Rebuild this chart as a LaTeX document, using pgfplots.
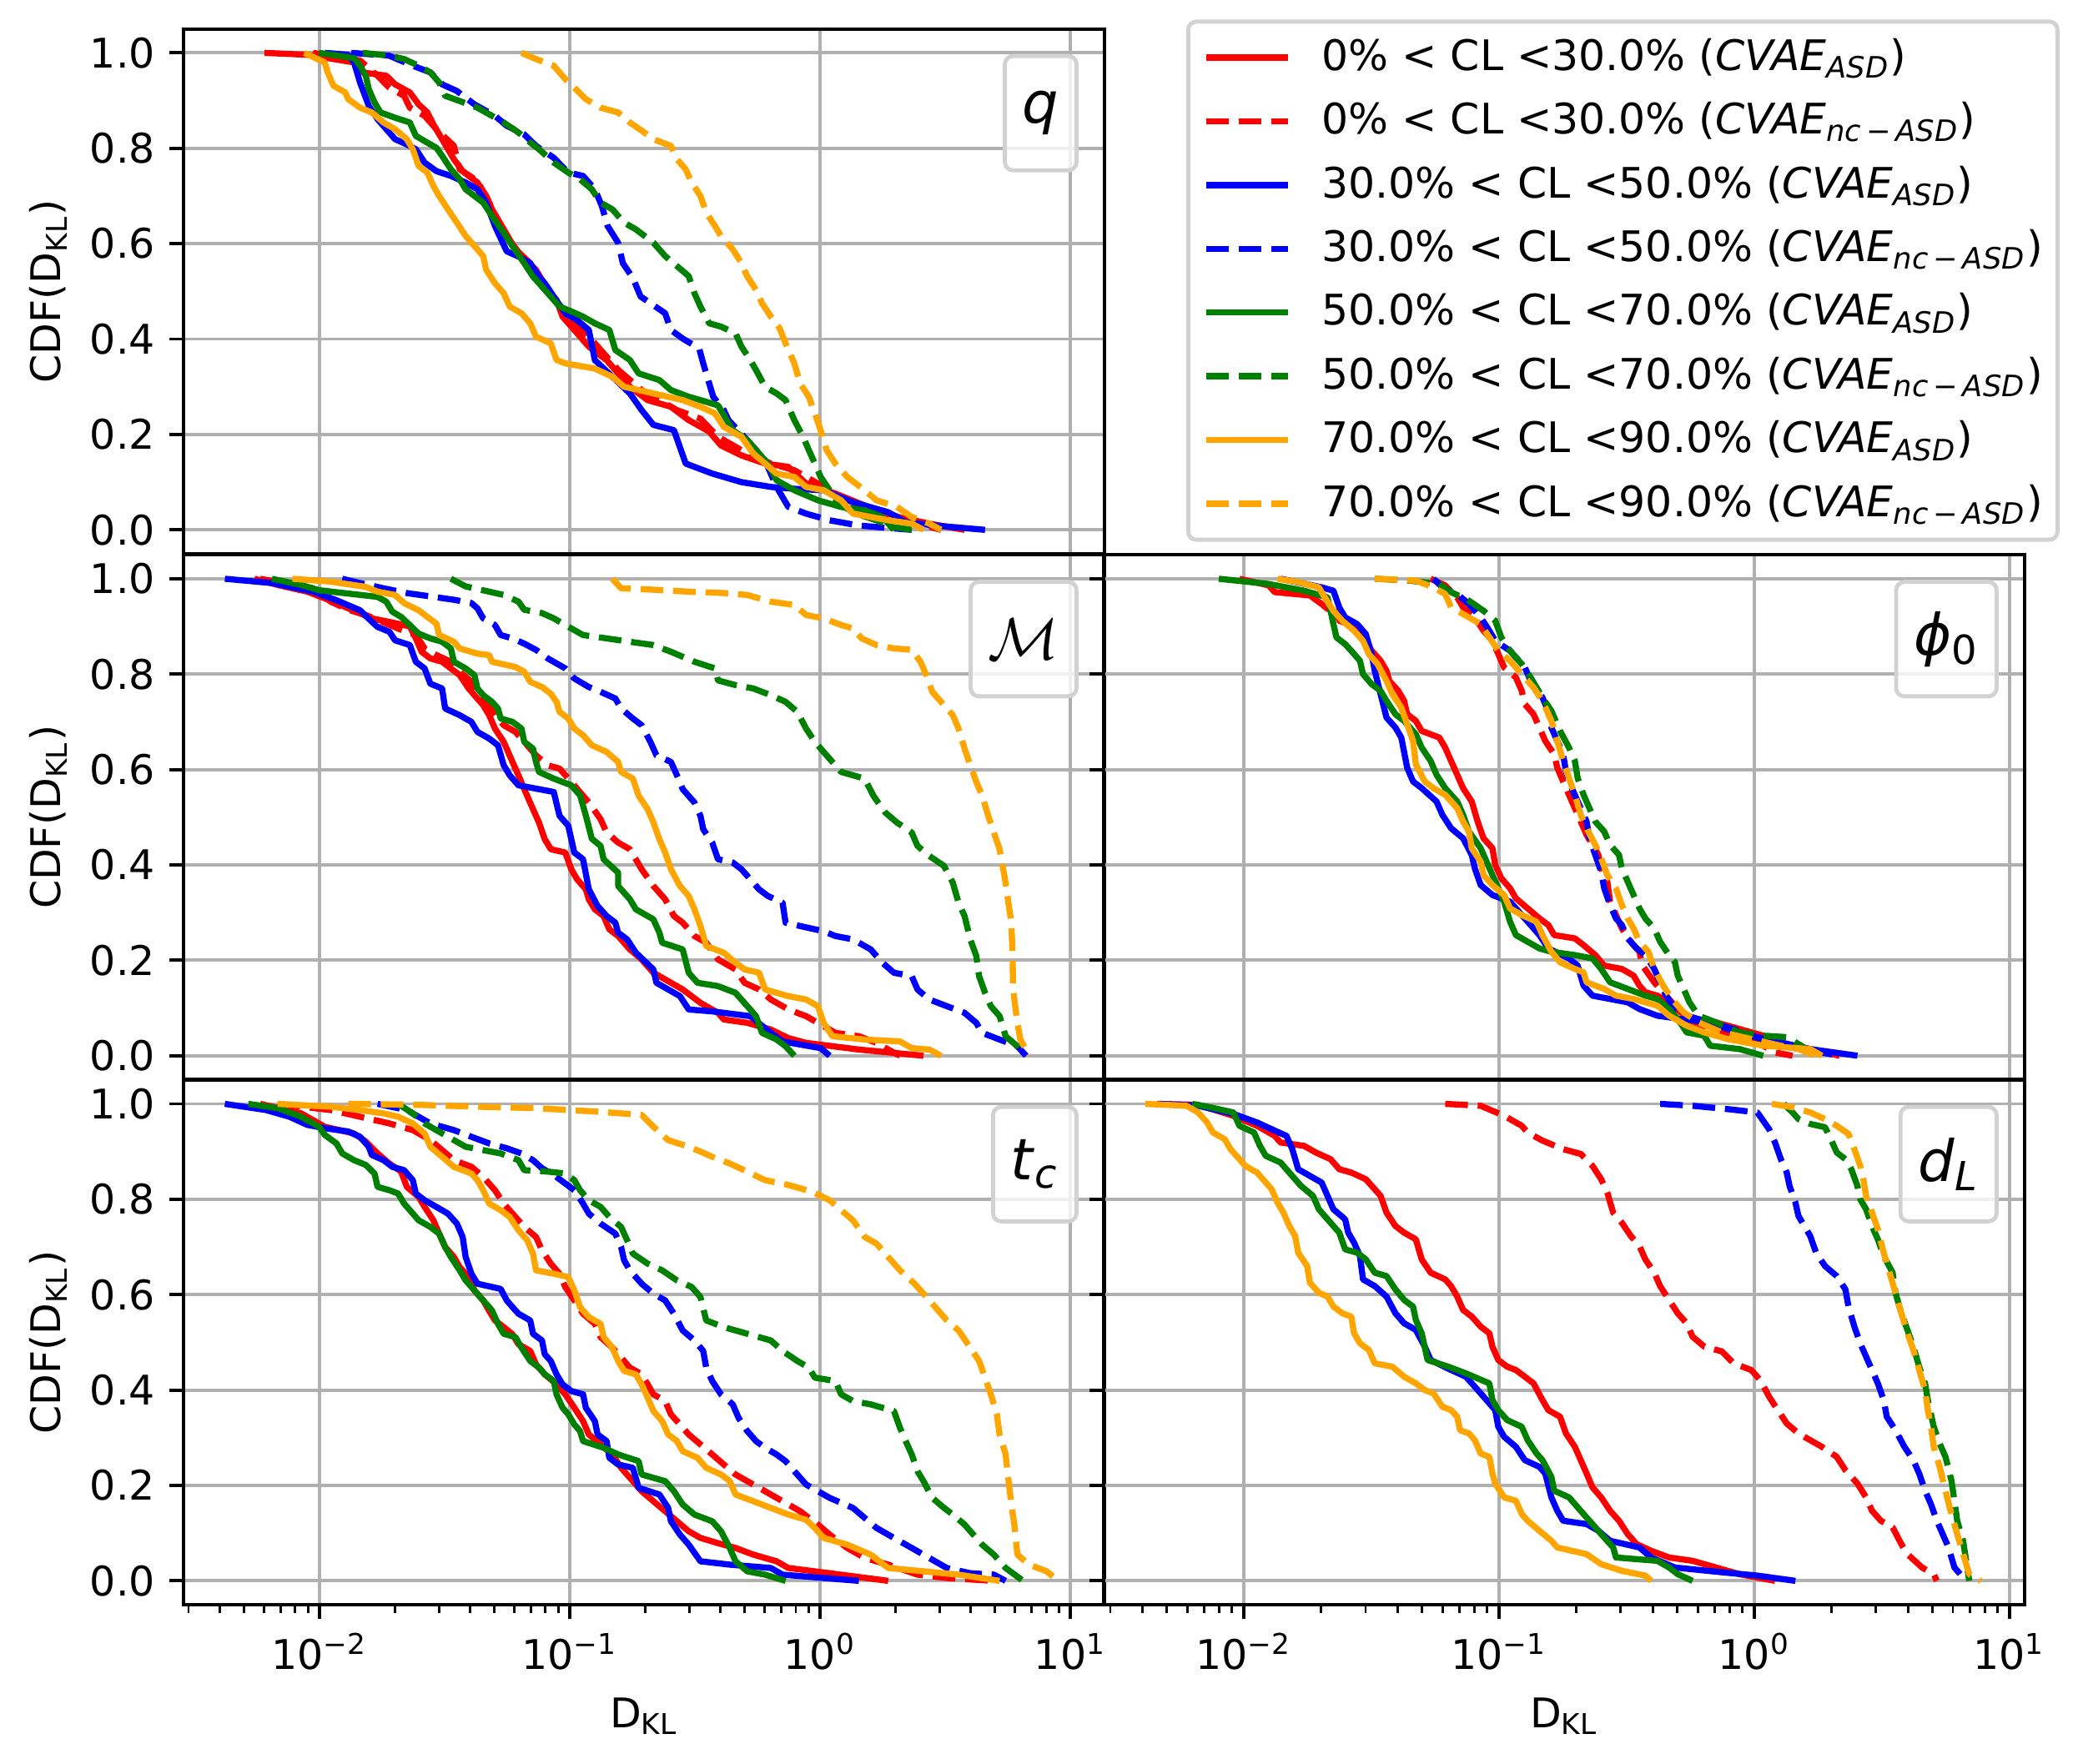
\documentclass[border=0pt]{standalone}
\usepackage{fontspec}
\setmainfont{DejaVu Sans}
\usepackage{pgfplots}
\pgfplotsset{compat=1.18}
\definecolor{cR}{rgb}{1,0,0}
\definecolor{cB}{rgb}{0,0,1}
\definecolor{cG}{rgb}{0,0.502,0}
\definecolor{cO}{rgb}{1,0.647,0}
\definecolor{gridgray}{RGB}{176,176,176}
\definecolor{framegray}{RGB}{210,210,210}
\tikzset{
 sR/.style={cR, line width=1.5pt, solid, line join=round},
 dR/.style={cR, line width=1.5pt, dash pattern=on 5.55pt off 2.4pt, line join=round},
 sB/.style={cB, line width=1.5pt, solid, line join=round},
 dB/.style={cB, line width=1.5pt, dash pattern=on 5.55pt off 2.4pt, line join=round},
 sG/.style={cG, line width=1.5pt, solid, line join=round},
 dG/.style={cG, line width=1.5pt, dash pattern=on 5.55pt off 2.4pt, line join=round},
 sO/.style={cO, line width=1.5pt, solid, line join=round},
 dO/.style={cO, line width=1.5pt, dash pattern=on 5.55pt off 2.4pt, line join=round},
 plabel/.style={draw=framegray, line width=1pt, rounded corners=2pt, fill=white, fill opacity=0.8, text opacity=1,
   inner xsep=4.3pt, minimum height=28pt, font=\fontsize{14}{16}\selectfont, anchor=north east, xshift=-6.3pt, yshift=-6.1pt},
}
\pgfplotsset{
 panel/.style={
   scale only axis, width=225.2pt, height=128.4pt, anchor=south west,
   ymin=-0.05, ymax=1.05,
   ytick={0,0.2,0.4,0.6,0.8,1.0},
   yticklabels={0.0,0.2,0.4,0.6,0.8,1.0},
   xtick={-2,-1,0,1},
   xticklabels={10\textsuperscript{−2},10\textsuperscript{−1},10\textsuperscript{0},10\textsuperscript{1}},
   grid=major,
   major grid style={draw=gridgray, line width=0.8pt},
   axis line style={line width=0.8pt},
   tick align=outside, xtick pos=bottom, ytick pos=left,
   major tick length=3.5pt, minor tick length=2pt,
   tick style={black, line width=0.8pt},
   minor tick style={black, line width=0.6pt},
   tick label style={font=\fontsize{10}{12}\selectfont},
   label style={font=\fontsize{10}{12}\selectfont},
   ylabel={CDF(D\textsubscript{KL})},
   ylabel style={at={(axis description cs:-0.147,0.5)}, anchor=center},
   xlabel style={at={(axis description cs:0.5,-0.212)}, anchor=center},
 },
 leftcol/.style={xmin=-2.542, xmax=1.135},
 rightcol/.style={xmin=-2.548, xmax=1.058, yticklabels={}, ylabel={}},
 minx/.style={minor xtick={-2.523,-2.398,-2.301,-2.222,-2.155,-2.097,-2.046,-1.699,-1.523,-1.398,-1.301,-1.222,-1.155,-1.097,-1.046,-0.699,-0.523,-0.398,-0.301,-0.222,-0.155,-0.097,-0.046,0.301,0.477,0.602,0.699,0.778,0.845,0.903,0.954}},
 nox/.style={xticklabels={}, xmajorticks=false},
}
\begin{document}
\begin{tikzpicture}
\path[use as bounding box] (0,0) rectangle (507.2pt,431.5pt);

% ---------------- q ----------------
\begin{axis}[panel, leftcol, nox, at={(44.97pt,296.0pt)},
  legend image code/.code={\draw[#1] (0pt,0pt) -- (20pt,0pt);},
  legend cell align=left,
  legend style={at={(1.089,1.018)}, anchor=north west, draw=framegray, line width=1pt, rounded corners=2pt,
    fill=white, inner xsep=3.6pt, inner ysep=2.7pt, row sep=3.4pt,
    nodes={inner sep=0pt, text height=9.2pt, text depth=3pt, font=\fontsize{10.3}{12}\selectfont},
    /tikz/every odd column/.append style={column sep=7.6pt}},
]
\addplot[sR] coordinates {(-2.220,1.000)(-2.049,0.996)(-1.862,0.980)(-1.827,0.959)(-1.733,0.952)(-1.698,0.934)(-1.639,0.917)(-1.604,0.892)(-1.569,0.875)(-1.545,0.850)(-1.510,0.819)(-1.463,0.777)(-1.428,0.752)(-1.369,0.728)(-1.334,0.700)(-1.311,0.672)(-1.264,0.630)(-1.217,0.588)(-1.158,0.559)(-1.111,0.510)(-1.053,0.482)(-1.029,0.447)(-0.982,0.419)(-0.924,0.384)(-0.853,0.356)(-0.760,0.300)(-0.689,0.272)(-0.596,0.258)(-0.525,0.230)(-0.443,0.206)(-0.396,0.177)(-0.314,0.156)(-0.220,0.139)(-0.127,0.132)(-0.056,0.097)(0.061,0.076)(0.178,0.051)(0.319,0.026)(0.436,0.013)(0.577,0.000)};
\addlegendentry{0\% < CL <30.0\% (\textit{CVAE}\textsubscript{\textit{ASD}})}
\addplot[dR] coordinates {(-2.026,1.000)(-1.838,0.984)(-1.768,0.952)(-1.721,0.927)(-1.662,0.910)(-1.639,0.885)(-1.580,0.868)(-1.533,0.840)(-1.463,0.805)(-1.440,0.756)(-1.369,0.731)(-1.322,0.686)(-1.264,0.623)(-1.193,0.574)(-1.135,0.545)(-1.088,0.503)(-1.029,0.461)(-0.982,0.433)(-0.900,0.391)(-0.806,0.335)(-0.713,0.293)(-0.572,0.251)(-0.478,0.233)(-0.408,0.195)(-0.291,0.160)(-0.197,0.139)(-0.103,0.125)(-0.009,0.097)(0.084,0.069)(0.202,0.041)(0.342,0.020)(0.483,0.000)};
\addlegendentry{0\% < CL <30.0\% (\textit{CVAE}\textsubscript{\textit{nc}\,−\,\textit{ASD}})}
\addplot[sB] coordinates {(-1.979,1.000)(-1.885,0.996)(-1.862,0.980)(-1.838,0.938)(-1.803,0.889)(-1.768,0.861)(-1.733,0.840)(-1.698,0.819)(-1.651,0.808)(-1.615,0.798)(-1.580,0.770)(-1.533,0.752)(-1.475,0.742)(-1.416,0.728)(-1.369,0.714)(-1.334,0.686)(-1.299,0.637)(-1.252,0.584)(-1.205,0.573)(-1.158,0.559)(-1.123,0.531)(-1.100,0.517)(-1.064,0.489)(-1.018,0.454)(-0.971,0.440)(-0.924,0.419)(-0.900,0.356)(-0.830,0.321)(-0.760,0.286)(-0.713,0.251)(-0.666,0.220)(-0.584,0.209)(-0.537,0.139)(-0.431,0.118)(-0.314,0.100)(-0.197,0.090)(-0.103,0.086)(0.014,0.083)(0.131,0.058)(0.272,0.037)(0.342,0.016)(0.460,0.009)(0.659,0.000)};
\addlegendentry{30.0\% < CL <50.0\% (\textit{CVAE}\textsubscript{\textit{ASD}})}
\addplot[dB] coordinates {(-1.873,1.000)(-1.721,0.994)(-1.627,0.973)(-1.557,0.959)(-1.510,0.934)(-1.451,0.920)(-1.381,0.892)(-1.299,0.868)(-1.252,0.847)(-1.182,0.829)(-1.135,0.805)(-1.064,0.780)(-1.006,0.749)(-0.947,0.742)(-0.900,0.714)(-0.872,0.679)(-0.849,0.637)(-0.807,0.602)(-0.788,0.559)(-0.748,0.528)(-0.717,0.489)(-0.666,0.471)(-0.619,0.454)(-0.596,0.419)(-0.549,0.401)(-0.483,0.380)(-0.467,0.349)(-0.443,0.307)(-0.427,0.279)(-0.385,0.251)(-0.366,0.230)(-0.291,0.188)(-0.220,0.146)(-0.174,0.090)(-0.127,0.048)(-0.056,0.034)(0.038,0.020)(0.155,0.009)(0.366,0.000)};
\addlegendentry{30.0\% < CL <50.0\% (\textit{CVAE}\textsubscript{\textit{nc}\,−\,\textit{ASD}})}
\addplot[sG] coordinates {(-2.002,1.000)(-1.862,0.989)(-1.838,0.973)(-1.815,0.952)(-1.803,0.924)(-1.780,0.896)(-1.756,0.875)(-1.698,0.864)(-1.639,0.854)(-1.615,0.826)(-1.580,0.815)(-1.533,0.801)(-1.510,0.784)(-1.475,0.756)(-1.440,0.735)(-1.416,0.714)(-1.381,0.700)(-1.346,0.686)(-1.311,0.658)(-1.264,0.623)(-1.229,0.595)(-1.182,0.559)(-1.147,0.531)(-1.111,0.510)(-1.076,0.489)(-1.041,0.468)(-0.994,0.458)(-0.947,0.447)(-0.900,0.433)(-0.842,0.419)(-0.818,0.377)(-0.760,0.356)(-0.725,0.328)(-0.642,0.314)(-0.596,0.293)(-0.525,0.279)(-0.478,0.272)(-0.408,0.261)(-0.349,0.209)(-0.291,0.188)(-0.244,0.160)(-0.209,0.139)(-0.174,0.104)(-0.103,0.083)(-0.009,0.062)(0.084,0.048)(0.178,0.041)(0.249,0.027)(0.295,0.000)};
\addlegendentry{50.0\% < CL <70.0\% (\textit{CVAE}\textsubscript{\textit{ASD}})}
\addplot[dG] coordinates {(-1.827,1.000)(-1.721,0.994)(-1.662,0.987)(-1.604,0.973)(-1.557,0.959)(-1.522,0.938)(-1.498,0.910)(-1.440,0.899)(-1.369,0.885)(-1.311,0.868)(-1.264,0.854)(-1.205,0.833)(-1.158,0.812)(-1.123,0.798)(-1.064,0.770)(-1.006,0.749)(-0.959,0.735)(-0.912,0.714)(-0.877,0.686)(-0.830,0.672)(-0.783,0.644)(-0.736,0.630)(-0.666,0.602)(-0.619,0.574)(-0.572,0.553)(-0.525,0.532)(-0.502,0.496)(-0.478,0.468)(-0.443,0.433)(-0.396,0.426)(-0.338,0.412)(-0.314,0.384)(-0.279,0.356)(-0.256,0.335)(-0.220,0.300)(-0.174,0.286)(-0.138,0.272)(-0.103,0.230)(-0.068,0.195)(-0.045,0.167)(-0.021,0.139)(0.002,0.111)(0.038,0.083)(0.073,0.055)(0.143,0.034)(0.225,0.020)(0.295,0.006)(0.366,0.000)};
\addlegendentry{50.0\% < CL <70.0\% (\textit{CVAE}\textsubscript{\textit{nc}\,−\,\textit{ASD}})}
\addplot[sO] coordinates {(-2.061,1.000)(-1.979,0.980)(-1.967,0.959)(-1.944,0.931)(-1.897,0.917)(-1.885,0.903)(-1.838,0.885)(-1.791,0.875)(-1.744,0.854)(-1.698,0.840)(-1.651,0.819)(-1.627,0.798)(-1.604,0.763)(-1.569,0.749)(-1.545,0.721)(-1.522,0.700)(-1.487,0.672)(-1.451,0.644)(-1.416,0.616)(-1.381,0.595)(-1.346,0.574)(-1.334,0.545)(-1.299,0.517)(-1.264,0.496)(-1.240,0.468)(-1.193,0.454)(-1.158,0.433)(-1.135,0.405)(-1.076,0.391)(-1.053,0.356)(-1.018,0.349)(-0.900,0.338)(-0.830,0.321)(-0.783,0.300)(-0.666,0.286)(-0.549,0.272)(-0.478,0.258)(-0.420,0.244)(-0.385,0.216)(-0.314,0.195)(-0.267,0.160)(-0.220,0.139)(-0.174,0.118)(-0.103,0.111)(-0.056,0.090)(0.014,0.083)(0.084,0.062)(0.131,0.034)(0.272,0.020)(0.366,0.013)(0.413,0.000)};
\addlegendentry{70.0\% < CL <90.0\% (\textit{CVAE}\textsubscript{\textit{ASD}})}
\addplot[dO] coordinates {(-1.193,1.000)(-1.135,0.987)(-1.064,0.973)(-1.018,0.945)(-0.982,0.927)(-0.936,0.903)(-0.877,0.885)(-0.807,0.875)(-0.760,0.854)(-0.713,0.837)(-0.666,0.819)(-0.596,0.805)(-0.572,0.777)(-0.537,0.756)(-0.513,0.728)(-0.478,0.700)(-0.455,0.665)(-0.420,0.637)(-0.396,0.616)(-0.349,0.588)(-0.314,0.559)(-0.291,0.531)(-0.256,0.503)(-0.232,0.475)(-0.197,0.447)(-0.162,0.423)(-0.138,0.391)(-0.103,0.349)(-0.080,0.307)(-0.045,0.279)(-0.021,0.244)(0.002,0.209)(0.026,0.167)(0.061,0.139)(0.108,0.111)(0.178,0.083)(0.225,0.062)(0.307,0.048)(0.366,0.027)(0.436,0.013)(0.483,0.000)};
\addlegendentry{70.0\% < CL <90.0\% (\textit{CVAE}\textsubscript{\textit{nc}\,−\,\textit{ASD}})}
\node[plabel] at (rel axis cs:1,1) {\textit{q}};
\end{axis}

% ---------------- M ----------------
\begin{axis}[panel, leftcol, nox, at={(44.97pt,167.3pt)}]
\addplot[sR] coordinates {(-2.260,1.000)(-2.167,0.987)(-2.049,0.973)(-1.979,0.959)(-1.885,0.938)(-1.791,0.917)(-1.698,0.907)(-1.639,0.900)(-1.615,0.875)(-1.592,0.847)(-1.557,0.833)(-1.510,0.826)(-1.475,0.812)(-1.440,0.798)(-1.404,0.770)(-1.381,0.756)(-1.346,0.735)(-1.322,0.714)(-1.299,0.686)(-1.264,0.658)(-1.229,0.616)(-1.205,0.588)(-1.182,0.559)(-1.147,0.517)(-1.123,0.489)(-1.100,0.454)(-1.076,0.433)(-1.018,0.426)(-0.994,0.391)(-0.971,0.370)(-0.936,0.349)(-0.924,0.328)(-0.900,0.307)(-0.865,0.293)(-0.842,0.265)(-0.807,0.251)(-0.760,0.223)(-0.713,0.202)(-0.666,0.174)(-0.619,0.160)(-0.549,0.139)(-0.478,0.111)(-0.408,0.090)(-0.385,0.076)(-0.291,0.069)(-0.197,0.055)(-0.127,0.037)(-0.056,0.027)(0.155,0.013)(0.413,0.000)};
\addplot[dR] coordinates {(-2.237,1.000)(-2.143,0.991)(-2.026,0.980)(-1.955,0.952)(-1.885,0.935)(-1.815,0.924)(-1.768,0.914)(-1.674,0.893)(-1.615,0.882)(-1.580,0.854)(-1.533,0.840)(-1.475,0.826)(-1.440,0.805)(-1.393,0.784)(-1.358,0.756)(-1.322,0.735)(-1.287,0.707)(-1.264,0.693)(-1.217,0.679)(-1.182,0.658)(-1.135,0.630)(-1.088,0.609)(-1.041,0.602)(-0.994,0.574)(-0.924,0.531)(-0.877,0.496)(-0.853,0.468)(-0.807,0.447)(-0.760,0.433)(-0.713,0.391)(-0.666,0.356)(-0.619,0.328)(-0.584,0.293)(-0.549,0.279)(-0.502,0.251)(-0.455,0.237)(-0.408,0.202)(-0.338,0.181)(-0.302,0.153)(-0.244,0.139)(-0.197,0.118)(-0.127,0.097)(-0.056,0.083)(0.014,0.062)(0.061,0.048)(0.155,0.041)(0.225,0.027)(0.272,0.013)(0.319,0.000)};
\addplot[sB] coordinates {(-2.378,1.000)(-2.190,0.991)(-2.026,0.973)(-1.932,0.955)(-1.838,0.934)(-1.791,0.910)(-1.768,0.899)(-1.721,0.889)(-1.698,0.871)(-1.639,0.861)(-1.615,0.826)(-1.580,0.812)(-1.557,0.780)(-1.510,0.770)(-1.498,0.728)(-1.440,0.714)(-1.393,0.700)(-1.369,0.679)(-1.322,0.665)(-1.287,0.651)(-1.264,0.609)(-1.240,0.588)(-1.205,0.567)(-1.064,0.553)(-1.041,0.503)(-1.006,0.482)(-0.982,0.426)(-0.947,0.412)(-0.924,0.349)(-0.889,0.314)(-0.853,0.293)(-0.818,0.279)(-0.807,0.258)(-0.771,0.244)(-0.736,0.216)(-0.666,0.181)(-0.654,0.153)(-0.607,0.139)(-0.560,0.125)(-0.525,0.097)(-0.431,0.093)(-0.279,0.083)(-0.197,0.048)(-0.150,0.030)(0.002,0.016)(0.038,0.000)};
\addplot[dB] coordinates {(-1.909,1.000)(-1.838,0.991)(-1.744,0.980)(-1.651,0.970)(-1.557,0.963)(-1.463,0.956)(-1.393,0.949)(-1.369,0.938)(-1.346,0.917)(-1.299,0.903)(-1.276,0.882)(-1.229,0.875)(-1.182,0.864)(-1.135,0.851)(-1.088,0.833)(-1.041,0.819)(-1.018,0.812)(-0.982,0.791)(-0.924,0.773)(-0.877,0.763)(-0.818,0.749)(-0.795,0.728)(-0.748,0.707)(-0.713,0.693)(-0.678,0.658)(-0.654,0.630)(-0.596,0.616)(-0.572,0.588)(-0.549,0.559)(-0.502,0.531)(-0.478,0.503)(-0.467,0.475)(-0.431,0.447)(-0.408,0.412)(-0.349,0.405)(-0.314,0.391)(-0.279,0.370)(-0.244,0.349)(-0.209,0.335)(-0.150,0.321)(-0.138,0.279)(-0.080,0.272)(0.014,0.261)(0.061,0.251)(0.131,0.244)(0.202,0.223)(0.249,0.195)(0.295,0.174)(0.366,0.167)(0.389,0.139)(0.436,0.118)(0.506,0.104)(0.577,0.090)(0.624,0.069)(0.647,0.048)(0.717,0.034)(0.788,0.020)(0.823,0.000)};
\addplot[sG] coordinates {(-2.190,1.000)(-2.073,0.987)(-2.002,0.976)(-1.885,0.969)(-1.768,0.962)(-1.733,0.952)(-1.709,0.931)(-1.674,0.920)(-1.639,0.903)(-1.604,0.885)(-1.557,0.875)(-1.510,0.868)(-1.475,0.854)(-1.463,0.826)(-1.416,0.812)(-1.381,0.798)(-1.369,0.770)(-1.346,0.756)(-1.311,0.742)(-1.287,0.728)(-1.276,0.707)(-1.229,0.700)(-1.193,0.686)(-1.182,0.658)(-1.147,0.644)(-1.135,0.616)(-1.123,0.595)(-1.064,0.581)(-0.994,0.567)(-0.959,0.546)(-0.936,0.504)(-0.912,0.455)(-0.877,0.440)(-0.865,0.412)(-0.807,0.384)(-0.807,0.356)(-0.760,0.328)(-0.736,0.307)(-0.666,0.286)(-0.642,0.258)(-0.631,0.237)(-0.549,0.223)(-0.525,0.174)(-0.490,0.153)(-0.408,0.146)(-0.338,0.132)(-0.291,0.104)(-0.256,0.083)(-0.232,0.048)(-0.174,0.034)(-0.138,0.020)(-0.103,0.000)};
\addplot[dG] coordinates {(-1.475,1.000)(-1.416,0.984)(-1.322,0.973)(-1.264,0.966)(-1.205,0.952)(-1.182,0.935)(-1.111,0.928)(-1.064,0.917)(-1.018,0.903)(-0.947,0.882)(-0.853,0.875)(-0.760,0.868)(-0.666,0.861)(-0.596,0.847)(-0.502,0.826)(-0.420,0.812)(-0.408,0.787)(-0.338,0.777)(-0.267,0.770)(-0.197,0.756)(-0.138,0.742)(-0.091,0.721)(-0.056,0.686)(-0.021,0.658)(0.014,0.637)(0.049,0.616)(0.084,0.595)(0.178,0.581)(0.213,0.545)(0.260,0.510)(0.307,0.489)(0.366,0.468)(0.389,0.440)(0.436,0.419)(0.495,0.398)(0.530,0.363)(0.553,0.321)(0.577,0.293)(0.600,0.244)(0.624,0.209)(0.635,0.167)(0.659,0.132)(0.682,0.104)(0.717,0.083)(0.741,0.041)(0.788,0.020)(0.811,0.000)};
\addplot[sO] coordinates {(-2.108,1.000)(-1.955,0.994)(-1.815,0.983)(-1.768,0.973)(-1.698,0.966)(-1.662,0.949)(-1.604,0.934)(-1.569,0.920)(-1.533,0.906)(-1.522,0.882)(-1.463,0.868)(-1.440,0.854)(-1.369,0.843)(-1.322,0.840)(-1.311,0.826)(-1.217,0.815)(-1.182,0.805)(-1.158,0.784)(-1.111,0.773)(-1.076,0.759)(-1.053,0.742)(-1.041,0.721)(-1.006,0.707)(-0.982,0.686)(-0.947,0.672)(-0.912,0.651)(-0.853,0.637)(-0.807,0.616)(-0.795,0.595)(-0.748,0.581)(-0.725,0.545)(-0.689,0.517)(-0.666,0.489)(-0.642,0.454)(-0.619,0.426)(-0.596,0.391)(-0.560,0.356)(-0.525,0.335)(-0.502,0.307)(-0.478,0.272)(-0.455,0.230)(-0.385,0.216)(-0.338,0.195)(-0.302,0.181)(-0.244,0.174)(-0.220,0.139)(-0.127,0.125)(-0.056,0.118)(-0.009,0.104)(0.014,0.069)(0.049,0.041)(0.178,0.034)(0.319,0.030)(0.366,0.016)(0.436,0.013)(0.483,0.000)};
\addplot[dO] coordinates {(-0.830,1.000)(-0.795,0.980)(-0.666,0.977)(-0.525,0.973)(-0.385,0.970)(-0.291,0.966)(-0.197,0.952)(-0.103,0.945)(-0.056,0.924)(0.014,0.917)(0.084,0.903)(0.131,0.896)(0.166,0.875)(0.225,0.861)(0.295,0.854)(0.366,0.851)(0.401,0.826)(0.424,0.798)(0.448,0.763)(0.495,0.735)(0.530,0.714)(0.553,0.686)(0.577,0.644)(0.600,0.609)(0.624,0.574)(0.647,0.546)(0.671,0.504)(0.694,0.468)(0.717,0.433)(0.729,0.398)(0.741,0.363)(0.752,0.321)(0.764,0.279)(0.769,0.209)(0.771,0.139)(0.788,0.069)(0.800,0.034)(0.835,0.000)};
\node[plabel] at (rel axis cs:1,1) {$\mathcal{M}$};
\end{axis}

% ---------------- phi0 ----------------
\begin{axis}[panel, rightcol, nox, at={(270.1pt,167.3pt)}]
\addplot[sR] coordinates {(-2.017,1.000)(-1.902,0.986)(-1.879,0.972)(-1.741,0.965)(-1.695,0.947)(-1.672,0.937)(-1.637,0.930)(-1.626,0.912)(-1.591,0.905)(-1.533,0.884)(-1.499,0.849)(-1.464,0.828)(-1.441,0.807)(-1.430,0.786)(-1.395,0.765)(-1.372,0.744)(-1.360,0.716)(-1.326,0.702)(-1.303,0.681)(-1.234,0.667)(-1.211,0.646)(-1.188,0.618)(-1.164,0.589)(-1.141,0.561)(-1.107,0.533)(-1.084,0.491)(-1.061,0.456)(-1.026,0.435)(-1.015,0.400)(-0.991,0.372)(-0.957,0.351)(-0.934,0.330)(-0.888,0.309)(-0.842,0.288)(-0.807,0.274)(-0.784,0.253)(-0.703,0.246)(-0.669,0.232)(-0.623,0.211)(-0.588,0.189)(-0.519,0.182)(-0.473,0.168)(-0.450,0.147)(-0.427,0.133)(-0.380,0.126)(-0.334,0.112)(-0.288,0.091)(-0.242,0.077)(-0.150,0.070)(-0.058,0.056)(0.035,0.042)(0.127,0.021)(0.219,0.014)(0.334,0.000)};
\addplot[dR] coordinates {(-1.268,1.000)(-1.211,0.986)(-1.164,0.961)(-1.141,0.940)(-1.095,0.919)(-1.061,0.891)(-1.026,0.870)(-1.003,0.842)(-0.980,0.814)(-0.934,0.793)(-0.911,0.765)(-0.899,0.737)(-0.865,0.716)(-0.842,0.688)(-0.819,0.660)(-0.784,0.632)(-0.772,0.604)(-0.749,0.575)(-0.726,0.547)(-0.703,0.519)(-0.680,0.491)(-0.657,0.463)(-0.634,0.442)(-0.611,0.421)(-0.600,0.393)(-0.576,0.365)(-0.565,0.323)(-0.542,0.295)(-0.519,0.267)(-0.484,0.239)(-0.450,0.218)(-0.438,0.189)(-0.392,0.154)(-0.357,0.133)(-0.323,0.112)(-0.288,0.091)(-0.242,0.070)(-0.173,0.056)(-0.081,0.042)(0.012,0.028)(0.081,0.007)(0.150,0.000)};
\addplot[sB] coordinates {(-1.856,1.000)(-1.695,0.982)(-1.649,0.975)(-1.626,0.940)(-1.603,0.919)(-1.556,0.905)(-1.522,0.884)(-1.499,0.842)(-1.487,0.807)(-1.464,0.758)(-1.441,0.709)(-1.406,0.688)(-1.383,0.667)(-1.360,0.604)(-1.337,0.575)(-1.303,0.561)(-1.245,0.533)(-1.222,0.505)(-1.188,0.477)(-1.141,0.456)(-1.107,0.421)(-1.095,0.393)(-1.072,0.358)(-1.026,0.337)(-0.957,0.323)(-0.911,0.295)(-0.876,0.274)(-0.842,0.253)(-0.807,0.225)(-0.726,0.204)(-0.692,0.189)(-0.669,0.147)(-0.634,0.126)(-0.565,0.119)(-0.496,0.112)(-0.450,0.098)(-0.380,0.084)(-0.288,0.077)(-0.173,0.070)(-0.104,0.056)(-0.012,0.042)(0.104,0.028)(0.219,0.014)(0.404,0.000)};
\addplot[dB] coordinates {(-1.257,1.000)(-1.222,0.982)(-1.164,0.968)(-1.118,0.947)(-1.072,0.919)(-1.038,0.891)(-1.015,0.870)(-0.957,0.849)(-0.899,0.814)(-0.876,0.786)(-0.830,0.751)(-0.807,0.723)(-0.795,0.688)(-0.772,0.660)(-0.749,0.632)(-0.738,0.596)(-0.715,0.561)(-0.680,0.519)(-0.657,0.491)(-0.646,0.456)(-0.623,0.421)(-0.600,0.386)(-0.588,0.351)(-0.565,0.316)(-0.542,0.288)(-0.519,0.274)(-0.496,0.246)(-0.461,0.225)(-0.427,0.211)(-0.392,0.182)(-0.369,0.154)(-0.346,0.126)(-0.311,0.098)(-0.265,0.084)(-0.173,0.070)(-0.081,0.056)(-0.012,0.042)(0.104,0.021)(0.219,0.011)(0.334,0.000)};
\addplot[sG] coordinates {(-2.098,1.000)(-1.902,0.989)(-1.764,0.975)(-1.672,0.961)(-1.660,0.933)(-1.649,0.905)(-1.637,0.877)(-1.603,0.863)(-1.579,0.849)(-1.545,0.828)(-1.533,0.800)(-1.499,0.779)(-1.464,0.765)(-1.441,0.744)(-1.406,0.716)(-1.372,0.702)(-1.326,0.674)(-1.303,0.646)(-1.268,0.618)(-1.245,0.589)(-1.211,0.561)(-1.164,0.533)(-1.141,0.505)(-1.118,0.470)(-1.072,0.435)(-1.049,0.407)(-1.026,0.379)(-1.003,0.351)(-0.980,0.323)(-0.957,0.281)(-0.934,0.253)(-0.888,0.239)(-0.842,0.225)(-0.795,0.218)(-0.703,0.211)(-0.634,0.204)(-0.600,0.182)(-0.565,0.154)(-0.496,0.140)(-0.427,0.126)(-0.380,0.119)(-0.334,0.098)(-0.300,0.077)(-0.265,0.049)(-0.196,0.042)(-0.173,0.021)(-0.058,0.014)(0.035,0.000)};
\addplot[dG] coordinates {(-1.487,1.000)(-1.349,0.996)(-1.234,0.989)(-1.188,0.972)(-1.118,0.954)(-1.061,0.933)(-1.015,0.912)(-0.991,0.877)(-0.957,0.849)(-0.911,0.821)(-0.876,0.793)(-0.830,0.751)(-0.795,0.723)(-0.761,0.681)(-0.726,0.646)(-0.703,0.618)(-0.692,0.582)(-0.669,0.547)(-0.646,0.519)(-0.623,0.491)(-0.588,0.470)(-0.565,0.442)(-0.530,0.421)(-0.519,0.393)(-0.496,0.365)(-0.473,0.337)(-0.450,0.309)(-0.427,0.288)(-0.392,0.267)(-0.369,0.239)(-0.334,0.211)(-0.311,0.196)(-0.300,0.168)(-0.277,0.140)(-0.254,0.112)(-0.219,0.084)(-0.150,0.070)(-0.058,0.049)(0.035,0.042)(0.127,0.039)(0.184,0.021)(0.242,0.000)};
\addplot[sO] coordinates {(-1.868,1.000)(-1.787,0.993)(-1.706,0.982)(-1.683,0.961)(-1.649,0.933)(-1.614,0.912)(-1.568,0.891)(-1.533,0.870)(-1.510,0.842)(-1.476,0.821)(-1.441,0.786)(-1.418,0.758)(-1.383,0.730)(-1.360,0.695)(-1.337,0.660)(-1.326,0.611)(-1.291,0.575)(-1.257,0.561)(-1.211,0.547)(-1.164,0.519)(-1.141,0.491)(-1.118,0.470)(-1.107,0.435)(-1.072,0.407)(-1.061,0.379)(-1.026,0.358)(-0.980,0.337)(-0.957,0.309)(-0.911,0.295)(-0.853,0.281)(-0.830,0.253)(-0.795,0.218)(-0.761,0.196)(-0.703,0.182)(-0.669,0.175)(-0.657,0.154)(-0.588,0.140)(-0.542,0.126)(-0.473,0.119)(-0.380,0.105)(-0.334,0.084)(-0.265,0.063)(-0.196,0.049)(-0.104,0.035)(0.035,0.021)(0.219,0.014)(0.265,0.000)};
\addplot[dO] coordinates {(-1.487,1.000)(-1.326,0.996)(-1.257,0.982)(-1.211,0.968)(-1.188,0.940)(-1.141,0.926)(-1.072,0.905)(-1.038,0.877)(-1.003,0.849)(-0.957,0.828)(-0.911,0.800)(-0.865,0.772)(-0.830,0.744)(-0.795,0.702)(-0.772,0.660)(-0.749,0.618)(-0.726,0.582)(-0.703,0.547)(-0.680,0.505)(-0.657,0.477)(-0.623,0.442)(-0.600,0.414)(-0.576,0.379)(-0.542,0.351)(-0.519,0.316)(-0.496,0.288)(-0.473,0.267)(-0.450,0.239)(-0.415,0.218)(-0.392,0.182)(-0.357,0.147)(-0.323,0.119)(-0.277,0.091)(-0.219,0.070)(-0.127,0.049)(-0.012,0.035)(0.104,0.021)(0.173,0.014)(0.242,0.000)};
\node[plabel] at (rel axis cs:1,1) {\textit{ϕ}\textsubscript{0}};
\end{axis}

% ---------------- t_c ----------------
\begin{axis}[panel, leftcol, minx, xlabel={D\textsubscript{KL}}, at={(44.97pt,38.8pt)}]
\addplot[sR] coordinates {(-2.237,1.000)(-2.073,0.980)(-1.979,0.952)(-1.862,0.938)(-1.815,0.921)(-1.768,0.896)(-1.721,0.875)(-1.674,0.858)(-1.651,0.826)(-1.604,0.805)(-1.580,0.784)(-1.545,0.756)(-1.522,0.728)(-1.498,0.700)(-1.463,0.679)(-1.440,0.658)(-1.404,0.637)(-1.381,0.609)(-1.346,0.588)(-1.322,0.566)(-1.299,0.546)(-1.264,0.532)(-1.229,0.517)(-1.205,0.496)(-1.158,0.482)(-1.135,0.454)(-1.100,0.433)(-1.053,0.412)(-1.018,0.391)(-0.982,0.363)(-0.947,0.335)(-0.924,0.307)(-0.877,0.286)(-0.830,0.265)(-0.795,0.237)(-0.748,0.209)(-0.713,0.188)(-0.666,0.167)(-0.619,0.146)(-0.572,0.125)(-0.525,0.104)(-0.478,0.090)(-0.408,0.079)(-0.338,0.069)(-0.267,0.055)(-0.174,0.041)(-0.127,0.027)(0.038,0.016)(0.272,0.000)};
\addplot[dR] coordinates {(-2.167,1.000)(-1.955,0.987)(-1.838,0.973)(-1.721,0.959)(-1.627,0.945)(-1.557,0.924)(-1.510,0.903)(-1.463,0.882)(-1.393,0.868)(-1.346,0.847)(-1.299,0.819)(-1.264,0.791)(-1.229,0.770)(-1.182,0.742)(-1.135,0.721)(-1.111,0.693)(-1.076,0.665)(-1.041,0.644)(-1.018,0.616)(-0.982,0.588)(-0.947,0.560)(-0.900,0.539)(-0.877,0.511)(-0.830,0.489)(-0.795,0.468)(-0.760,0.447)(-0.713,0.433)(-0.689,0.412)(-0.666,0.391)(-0.619,0.377)(-0.596,0.349)(-0.560,0.328)(-0.525,0.307)(-0.478,0.286)(-0.431,0.265)(-0.385,0.244)(-0.338,0.223)(-0.291,0.209)(-0.220,0.188)(-0.150,0.167)(-0.080,0.146)(-0.009,0.118)(0.038,0.097)(0.108,0.069)(0.178,0.048)(0.272,0.034)(0.389,0.013)(0.506,0.006)(0.694,0.000)};
\addplot[sB] coordinates {(-2.378,1.000)(-2.213,0.987)(-2.120,0.973)(-2.049,0.956)(-1.979,0.949)(-1.885,0.942)(-1.838,0.931)(-1.803,0.910)(-1.791,0.893)(-1.744,0.882)(-1.709,0.868)(-1.662,0.861)(-1.627,0.840)(-1.615,0.812)(-1.580,0.798)(-1.533,0.784)(-1.487,0.770)(-1.451,0.749)(-1.428,0.721)(-1.416,0.679)(-1.393,0.644)(-1.369,0.623)(-1.276,0.612)(-1.252,0.588)(-1.229,0.574)(-1.205,0.560)(-1.158,0.546)(-1.147,0.518)(-1.111,0.504)(-1.100,0.475)(-1.076,0.461)(-1.053,0.433)(-1.029,0.412)(-0.994,0.398)(-0.947,0.391)(-0.936,0.363)(-0.900,0.335)(-0.889,0.307)(-0.853,0.293)(-0.842,0.258)(-0.807,0.244)(-0.748,0.237)(-0.725,0.195)(-0.642,0.181)(-0.607,0.153)(-0.596,0.125)(-0.560,0.097)(-0.525,0.076)(-0.478,0.041)(-0.361,0.034)(-0.197,0.027)(-0.150,0.013)(0.155,0.000)};
\addplot[dB] coordinates {(-1.768,1.000)(-1.651,0.987)(-1.604,0.973)(-1.557,0.959)(-1.463,0.945)(-1.393,0.931)(-1.322,0.917)(-1.252,0.907)(-1.193,0.896)(-1.147,0.882)(-1.111,0.865)(-1.064,0.851)(-1.018,0.833)(-0.982,0.819)(-0.947,0.791)(-0.924,0.770)(-0.877,0.749)(-0.818,0.728)(-0.795,0.700)(-0.783,0.672)(-0.760,0.651)(-0.713,0.623)(-0.666,0.602)(-0.619,0.588)(-0.584,0.560)(-0.549,0.525)(-0.502,0.504)(-0.467,0.482)(-0.455,0.447)(-0.431,0.419)(-0.396,0.391)(-0.349,0.370)(-0.326,0.342)(-0.291,0.314)(-0.256,0.293)(-0.220,0.279)(-0.174,0.265)(-0.138,0.251)(-0.103,0.230)(-0.056,0.202)(-0.009,0.188)(0.038,0.174)(0.131,0.153)(0.178,0.132)(0.225,0.111)(0.295,0.090)(0.366,0.069)(0.436,0.048)(0.506,0.027)(0.600,0.016)(0.694,0.013)(0.741,0.000)};
\addplot[sG] coordinates {(-2.284,1.000)(-2.167,0.991)(-2.073,0.973)(-2.002,0.952)(-1.979,0.935)(-1.932,0.917)(-1.909,0.896)(-1.862,0.882)(-1.815,0.872)(-1.780,0.854)(-1.768,0.826)(-1.721,0.819)(-1.686,0.812)(-1.662,0.791)(-1.627,0.770)(-1.604,0.756)(-1.557,0.742)(-1.522,0.728)(-1.498,0.700)(-1.475,0.679)(-1.440,0.651)(-1.416,0.630)(-1.381,0.609)(-1.346,0.588)(-1.311,0.567)(-1.287,0.539)(-1.264,0.518)(-1.217,0.511)(-1.193,0.489)(-1.158,0.461)(-1.123,0.447)(-1.100,0.433)(-1.064,0.419)(-1.053,0.391)(-1.029,0.363)(-1.006,0.349)(-0.982,0.328)(-0.959,0.314)(-0.947,0.293)(-0.865,0.279)(-0.807,0.265)(-0.725,0.251)(-0.713,0.223)(-0.619,0.209)(-0.584,0.188)(-0.549,0.160)(-0.502,0.139)(-0.431,0.125)(-0.396,0.104)(-0.361,0.069)(-0.338,0.041)(-0.291,0.020)(-0.220,0.013)(-0.138,0.000)};
\addplot[dG] coordinates {(-1.686,1.000)(-1.627,0.980)(-1.580,0.959)(-1.510,0.938)(-1.463,0.924)(-1.416,0.910)(-1.346,0.903)(-1.276,0.896)(-1.205,0.882)(-1.182,0.861)(-1.088,0.858)(-1.018,0.854)(-0.982,0.840)(-0.959,0.819)(-0.924,0.798)(-0.877,0.784)(-0.842,0.763)(-0.795,0.742)(-0.771,0.714)(-0.748,0.686)(-0.689,0.665)(-0.631,0.651)(-0.572,0.630)(-0.513,0.616)(-0.478,0.595)(-0.455,0.546)(-0.385,0.532)(-0.291,0.518)(-0.197,0.504)(-0.150,0.482)(-0.091,0.461)(-0.045,0.447)(-0.021,0.426)(0.061,0.419)(0.084,0.391)(0.131,0.377)(0.202,0.370)(0.295,0.356)(0.319,0.321)(0.342,0.293)(0.366,0.265)(0.389,0.230)(0.413,0.209)(0.448,0.174)(0.495,0.153)(0.530,0.139)(0.577,0.118)(0.612,0.097)(0.647,0.076)(0.694,0.055)(0.741,0.027)(0.811,0.000)};
\addplot[sO] coordinates {(-2.167,1.000)(-1.955,0.994)(-1.838,0.987)(-1.744,0.980)(-1.686,0.973)(-1.627,0.959)(-1.580,0.938)(-1.557,0.910)(-1.510,0.889)(-1.463,0.868)(-1.393,0.854)(-1.369,0.840)(-1.346,0.819)(-1.322,0.791)(-1.276,0.777)(-1.240,0.763)(-1.205,0.735)(-1.170,0.714)(-1.147,0.686)(-1.135,0.651)(-1.064,0.644)(-1.006,0.637)(-0.982,0.609)(-0.959,0.574)(-0.924,0.553)(-0.877,0.539)(-0.865,0.511)(-0.830,0.489)(-0.807,0.461)(-0.783,0.440)(-0.736,0.433)(-0.713,0.412)(-0.689,0.384)(-0.666,0.356)(-0.631,0.335)(-0.607,0.307)(-0.572,0.293)(-0.549,0.272)(-0.490,0.258)(-0.455,0.237)(-0.396,0.223)(-0.361,0.209)(-0.338,0.181)(-0.267,0.167)(-0.197,0.153)(-0.127,0.139)(-0.056,0.128)(-0.021,0.111)(0.014,0.090)(0.108,0.076)(0.202,0.055)(0.272,0.027)(0.413,0.020)(0.553,0.013)(0.717,0.000)};
\addplot[dO] coordinates {(-1.885,1.000)(-1.604,0.998)(-1.369,0.994)(-1.135,0.991)(-0.900,0.984)(-0.713,0.977)(-0.666,0.952)(-0.607,0.924)(-0.525,0.910)(-0.478,0.900)(-0.431,0.889)(-0.361,0.875)(-0.291,0.858)(-0.220,0.840)(-0.127,0.830)(-0.033,0.816)(0.038,0.798)(0.084,0.777)(0.131,0.756)(0.178,0.721)(0.225,0.707)(0.272,0.679)(0.319,0.651)(0.377,0.623)(0.413,0.602)(0.460,0.574)(0.506,0.546)(0.553,0.525)(0.600,0.489)(0.635,0.461)(0.659,0.426)(0.682,0.391)(0.706,0.349)(0.717,0.307)(0.741,0.265)(0.753,0.209)(0.764,0.160)(0.776,0.118)(0.788,0.055)(0.835,0.034)(0.905,0.020)(0.952,0.000)};
\node[plabel] at (rel axis cs:1,1) {\textit{t}\textsubscript{\textit{c}}};
\end{axis}

% ---------------- d_L ----------------
\begin{axis}[panel, rightcol, minx, xlabel={D\textsubscript{KL}}, at={(270.1pt,38.8pt)}]
\addplot[sR] coordinates {(-2.340,1.000)(-2.179,0.998)(-2.041,0.975)(-1.948,0.954)(-1.879,0.933)(-1.856,0.919)(-1.764,0.912)(-1.718,0.898)(-1.660,0.884)(-1.626,0.863)(-1.579,0.856)(-1.522,0.842)(-1.487,0.821)(-1.464,0.807)(-1.441,0.772)(-1.406,0.744)(-1.372,0.730)(-1.326,0.716)(-1.303,0.674)(-1.268,0.646)(-1.211,0.632)(-1.188,0.618)(-1.164,0.596)(-1.141,0.568)(-1.107,0.554)(-1.072,0.533)(-1.038,0.519)(-1.026,0.491)(-1.003,0.463)(-0.968,0.449)(-0.934,0.442)(-0.899,0.428)(-0.865,0.414)(-0.830,0.379)(-0.807,0.358)(-0.761,0.344)(-0.738,0.309)(-0.703,0.281)(-0.680,0.253)(-0.657,0.225)(-0.634,0.196)(-0.600,0.175)(-0.565,0.147)(-0.530,0.126)(-0.496,0.098)(-0.461,0.077)(-0.404,0.063)(-0.334,0.049)(-0.242,0.042)(-0.150,0.028)(-0.058,0.014)(0.081,0.000)};
\addplot[dR] coordinates {(-1.211,1.000)(-1.072,0.996)(-0.980,0.975)(-0.911,0.954)(-0.888,0.940)(-0.830,0.923)(-0.749,0.905)(-0.680,0.895)(-0.634,0.870)(-0.600,0.842)(-0.576,0.814)(-0.553,0.772)(-0.519,0.751)(-0.484,0.723)(-0.450,0.702)(-0.427,0.674)(-0.392,0.646)(-0.369,0.618)(-0.334,0.589)(-0.300,0.561)(-0.265,0.540)(-0.242,0.512)(-0.196,0.491)(-0.127,0.481)(-0.081,0.456)(-0.012,0.442)(0.023,0.421)(0.058,0.386)(0.092,0.358)(0.127,0.330)(0.173,0.309)(0.219,0.295)(0.265,0.281)(0.323,0.260)(0.357,0.232)(0.404,0.204)(0.438,0.175)(0.461,0.147)(0.496,0.126)(0.542,0.112)(0.576,0.077)(0.600,0.056)(0.657,0.028)(0.703,0.014)(0.715,0.000)};
\addplot[sB] coordinates {(-2.329,1.000)(-2.179,0.996)(-2.041,0.979)(-1.948,0.961)(-1.879,0.944)(-1.833,0.933)(-1.810,0.905)(-1.787,0.863)(-1.741,0.849)(-1.695,0.835)(-1.672,0.807)(-1.649,0.779)(-1.603,0.758)(-1.591,0.730)(-1.568,0.709)(-1.545,0.681)(-1.533,0.632)(-1.487,0.618)(-1.441,0.596)(-1.406,0.561)(-1.372,0.540)(-1.326,0.526)(-1.291,0.491)(-1.268,0.463)(-1.188,0.442)(-1.130,0.428)(-1.095,0.407)(-1.049,0.379)(-1.015,0.358)(-1.003,0.323)(-0.980,0.302)(-0.934,0.281)(-0.899,0.253)(-0.842,0.239)(-0.819,0.225)(-0.795,0.175)(-0.772,0.147)(-0.749,0.126)(-0.657,0.119)(-0.611,0.105)(-0.565,0.084)(-0.450,0.070)(-0.404,0.049)(-0.311,0.028)(-0.127,0.018)(0.012,0.011)(0.161,0.000)};
\addplot[dB] coordinates {(-0.369,1.000)(-0.242,0.996)(-0.104,0.989)(0.012,0.982)(0.058,0.947)(0.081,0.919)(0.104,0.884)(0.127,0.856)(0.138,0.828)(0.161,0.793)(0.173,0.765)(0.196,0.744)(0.219,0.723)(0.242,0.688)(0.277,0.660)(0.323,0.639)(0.357,0.611)(0.369,0.575)(0.392,0.533)(0.415,0.498)(0.438,0.470)(0.461,0.442)(0.484,0.414)(0.507,0.379)(0.519,0.344)(0.553,0.316)(0.588,0.281)(0.623,0.253)(0.646,0.225)(0.669,0.189)(0.692,0.161)(0.715,0.126)(0.738,0.098)(0.761,0.070)(0.784,0.028)(0.830,0.000)};
\addplot[sG] coordinates {(-2.202,1.000)(-2.133,0.993)(-2.041,0.982)(-2.017,0.954)(-1.960,0.940)(-1.937,0.912)(-1.914,0.891)(-1.856,0.877)(-1.822,0.856)(-1.776,0.828)(-1.729,0.807)(-1.706,0.779)(-1.672,0.758)(-1.626,0.730)(-1.603,0.695)(-1.556,0.688)(-1.522,0.674)(-1.487,0.646)(-1.441,0.639)(-1.406,0.611)(-1.372,0.589)(-1.337,0.575)(-1.326,0.547)(-1.303,0.519)(-1.280,0.463)(-1.199,0.449)(-1.130,0.435)(-1.038,0.414)(-1.026,0.379)(-1.003,0.358)(-0.968,0.337)(-0.911,0.323)(-0.888,0.295)(-0.853,0.267)(-0.830,0.253)(-0.795,0.218)(-0.784,0.189)(-0.726,0.175)(-0.703,0.161)(-0.669,0.140)(-0.634,0.119)(-0.600,0.098)(-0.553,0.070)(-0.542,0.049)(-0.380,0.042)(-0.334,0.028)(-0.300,0.014)(-0.242,0.000)};
\addplot[dG] coordinates {(0.115,1.000)(0.150,0.982)(0.173,0.968)(0.219,0.958)(0.277,0.951)(0.300,0.926)(0.323,0.898)(0.357,0.884)(0.380,0.863)(0.404,0.828)(0.415,0.800)(0.438,0.779)(0.461,0.744)(0.484,0.716)(0.507,0.681)(0.542,0.646)(0.553,0.604)(0.576,0.561)(0.600,0.526)(0.623,0.491)(0.646,0.449)(0.669,0.414)(0.680,0.379)(0.703,0.323)(0.726,0.288)(0.749,0.260)(0.772,0.211)(0.784,0.168)(0.795,0.126)(0.818,0.084)(0.830,0.042)(0.842,0.000)};
\addplot[sO] coordinates {(-2.386,1.000)(-2.225,0.996)(-2.179,0.982)(-2.144,0.961)(-2.121,0.940)(-2.075,0.926)(-2.052,0.905)(-2.017,0.884)(-1.994,0.870)(-1.948,0.856)(-1.925,0.842)(-1.891,0.821)(-1.868,0.793)(-1.845,0.772)(-1.822,0.744)(-1.799,0.723)(-1.787,0.688)(-1.752,0.660)(-1.741,0.625)(-1.706,0.604)(-1.672,0.596)(-1.649,0.575)(-1.614,0.561)(-1.579,0.554)(-1.568,0.519)(-1.545,0.498)(-1.510,0.484)(-1.487,0.456)(-1.418,0.449)(-1.372,0.428)(-1.326,0.414)(-1.291,0.400)(-1.257,0.393)(-1.222,0.365)(-1.188,0.358)(-1.164,0.344)(-1.153,0.316)(-1.118,0.309)(-1.095,0.295)(-1.072,0.267)(-1.038,0.260)(-1.026,0.225)(-1.015,0.204)(-0.980,0.175)(-0.934,0.168)(-0.911,0.140)(-0.888,0.126)(-0.842,0.105)(-0.795,0.084)(-0.772,0.070)(-0.657,0.056)(-0.600,0.035)(-0.519,0.021)(-0.427,0.011)(-0.404,0.000)};
\addplot[dO] coordinates {(0.069,1.000)(0.150,0.993)(0.219,0.982)(0.277,0.968)(0.323,0.954)(0.369,0.937)(0.392,0.905)(0.415,0.870)(0.427,0.842)(0.438,0.807)(0.461,0.772)(0.484,0.737)(0.507,0.688)(0.530,0.646)(0.553,0.604)(0.576,0.561)(0.600,0.519)(0.623,0.484)(0.646,0.442)(0.669,0.400)(0.680,0.358)(0.692,0.323)(0.703,0.281)(0.726,0.239)(0.749,0.189)(0.772,0.140)(0.795,0.098)(0.818,0.056)(0.842,0.014)(0.888,0.000)};
\node[plabel] at (rel axis cs:1,1) {\textit{d}\textsubscript{\textit{L}}};
\end{axis}
\end{tikzpicture}
\end{document}
